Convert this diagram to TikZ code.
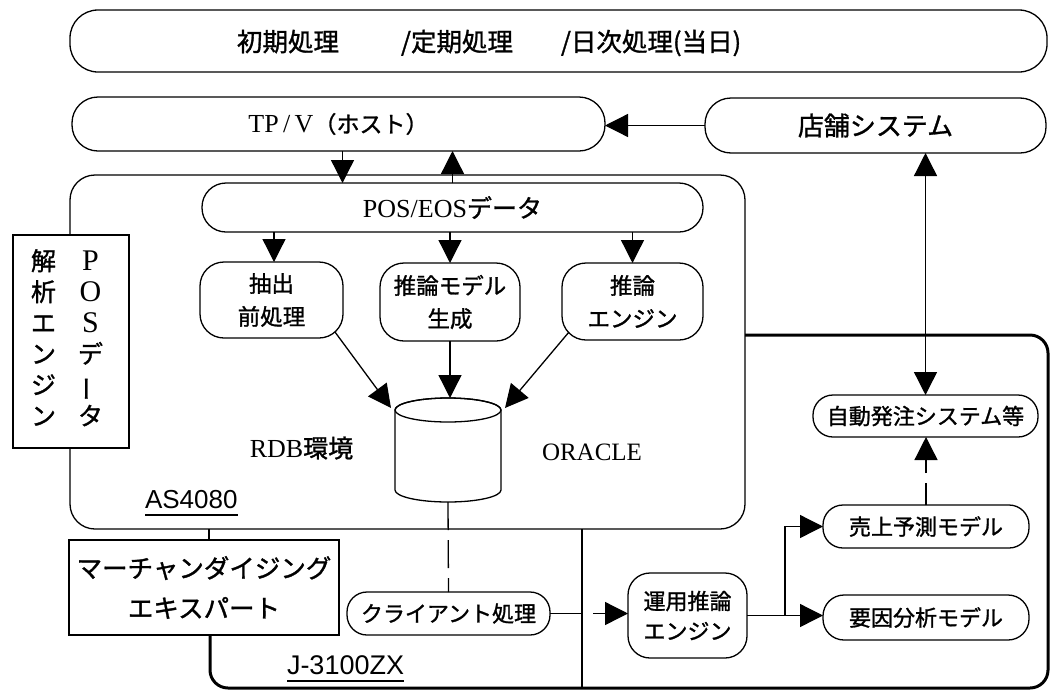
\documentclass[tikz,border=0pt]{standalone}
\usepackage{fontspec}
\usepackage{graphicx}
\setmainfont{Liberation Serif}
\newfontfamily\jp[FakeBold=1.2]{Noto Sans CJK JP}
\newfontfamily\sfn{Liberation Sans}
\usetikzlibrary{arrows.meta,calc}
\newcommand\myul[1]{\setbox0\hbox{#1}\rlap{\copy0}\raisebox{-8pt}{\rule{\wd0}{1.6pt}}}
\begin{document}
\begin{tikzpicture}[x=1pt,y=-1pt,
 ln/.style={line width=1.3pt},
 box/.style={draw, line width=1.3pt, fill=white, inner sep=0pt, outer sep=0pt, align=center},
 arr/.style={ln, -{Triangle[length=23pt,width=23pt]}},
 darr/.style={ln, {Triangle[length=23pt,width=23pt]}-{Triangle[length=23pt,width=23pt]}},
 frame/.style={line width=3pt},
 jtwo/.style={font=\jp\fontsize{22}{30}\selectfont},
 jsmall/.style={font=\jp\fontsize{22.5}{33}\selectfont},
 jmer/.style={font=\jp\fontsize{25.5}{40}\selectfont},
 jbig/.style={font=\jp\fontsize{26}{30}\selectfont},
 plain/.style={inner sep=0pt, outer sep=0pt},
]
\useasboundingbox (0,0) rectangle (1051,691);
\fill[white] (0,0) rectangle (1051,691);

% AS4080 frame
\node[draw, line width=1.3pt, rounded corners=25pt, minimum width=675pt, minimum height=354pt, inner sep=0pt, outer sep=0pt] (as) at (407.5,352) {};
% J-3100ZX frame
\draw[frame, rounded corners=18pt] (745,335) -- (1048,335) -- (1048,688) -- (210,688) -- (210,635);
\coordinate (vl) at (582,688);
\draw[ln] (vl |- as.south) -- (vl);
\coordinate (ml) at (209,540);
\draw[ln] (ml |- as.south) -- (ml);

% top row
\node[box, rounded corners=28pt, minimum width=977pt, minimum height=62pt] (top) at (558.5,41) {};
\node[plain, anchor=west, font=\jp\fontsize{25.5}{30}\selectfont] (toptxt) at (237,43) {初期処理\hspace{62pt}/定期処理\hspace{48pt}/日次処理(当日)};
\node[box, rounded corners=26pt, minimum width=533pt, minimum height=54pt] (tpv) at (338.5,124) {\fontsize{26}{30}\selectfont TP\,/\,V{\jp\fontsize{23}{30}\selectfont （ホスト）}};
\node[box, rounded corners=26pt, minimum width=341pt, minimum height=55pt, jbig] (tenpo) at (875.5,125.5) {店舗システム};

% AS4080 contents
\node[box, rounded corners=24pt, minimum width=501pt, minimum height=49pt] (pos) at (452.5,207.5) {\fontsize{26}{30}\selectfont POS/EOS{\jp\fontsize{25}{30}\selectfont データ}};
\node[box, rounded corners=24pt, minimum width=143pt, minimum height=76pt, jsmall] (chu) at (271.5,300) {抽出\\前処理};
\node[box, rounded corners=24pt, minimum width=140pt, minimum height=78pt, jsmall] (model) at (450,302) {推論モデル\\生成};
\node[box, rounded corners=24pt, minimum width=141pt, minimum height=77pt, jsmall] (eng) at (632.5,301.5) {推論\\エンジン};

\node[plain, minimum width=106pt, minimum height=104pt] (db) at (448,450) {};
\draw[ln, fill=white] (395,410) -- (395,490) arc[start angle=180, end angle=360, x radius=53pt, y radius=12pt] -- (501,410) arc[start angle=0, end angle=180, x radius=53pt, y radius=12pt] -- cycle;
\draw[ln] (448,410) ellipse [x radius=53pt, y radius=12pt];

\node[plain] (rdb) at (301.5,448) {\fontsize{26}{30}\selectfont RDB{\jp\fontsize{25}{30}\selectfont 環境}};
\node[plain, font=\fontsize{25}{30}\selectfont] (ora) at (592,452) {ORACLE};
\node[plain, anchor=base west, font=\sfn\fontsize{26}{30}\selectfont] (aslbl) at (145,508) {\myul{AS4080}};

% vertical box
\node[box, minimum width=116pt, minimum height=213pt] (posv) at (71,341.5) {\fontsize{25}{31}\selectfont\begin{tabular}{@{}c@{\hspace{22pt}}c@{\hspace{8pt}}}{\jp 解}&{\fontsize{30}{31}\selectfont P}\\{\jp 析}&{\fontsize{30}{31}\selectfont O}\\{\jp エ}&{\fontsize{30}{31}\selectfont S}\\{\jp ン}&{\jp デ}\\{\jp ジ}&\rotatebox[origin=c]{90}{\jp ー}\\{\jp ン}&{\jp タ}\end{tabular}};

% lower part
\node[box, minimum width=270pt, minimum height=95pt, jmer] (mer) at (204,587.5) {マーチャンダイジング\\エキスパート};
\node[box, rounded corners=20pt, minimum width=203pt, minimum height=43pt, jtwo] (cli) at (448.5,613.5) {クライアント処理};
\node[box, rounded corners=22pt, minimum width=119pt, minimum height=85pt, jtwo] (unyo) at (687.5,615.5) {運用推論\\エンジン};
\node[box, rounded corners=20pt, minimum width=206pt, minimum height=43pt, jtwo] (uri) at (926,526.5) {売上予測モデル};
\node[box, rounded corners=21pt, minimum width=206pt, minimum height=45pt, jtwo] (you) at (926,617.5) {要因分析モデル};
\node[box, rounded corners=20pt, minimum width=225pt, minimum height=42pt, jtwo] (jido) at (925.5,416) {自動発注システム等};
\node[plain, anchor=base west, font=\sfn\fontsize{27}{30}\selectfont] (jlbl) at (287,674) {\myul{J-3100ZX}};

% connectors
\draw[arr] (tenpo.west) -- (tenpo.west -| tpv.east);
\draw[arr] ([xshift=4pt]tpv.south) -- ([xshift=4pt]tpv.south |- pos.north);
\draw[arr] (pos.north) -- (pos.north |- tpv.south);
\draw[arr] ([xshift=2.5pt]chu.north |- pos.south) -- ([xshift=2.5pt]chu.north);
\draw[arr] (model.north |- pos.south) -- (model.north);
\draw[arr] (eng.north |- pos.south) -- (eng.north);
\draw[arr] ([shift={(-8pt,6pt)}]chu.south east) -- ([shift={(-4pt,-10pt)}]db.north west);
\draw[arr] (model.south) -- (model.south |- db.north);
\draw[arr] ([shift={(7pt,8pt)}]eng.south west) -- ([shift={(4pt,-10pt)}]db.north east);
\draw[ln, dash pattern=on 28pt off 10pt] (db.south) -- (cli.north);
\draw[ln] (cli.east) -- (cli.east -| vl);
\coordinate (ua) at (593,613.5);
\draw[arr] (ua) -- (ua -| unyo.west);
\draw[arr] (unyo.east) -- (unyo.east -| you.west);
\coordinate (br) at (785,615.5);
\draw[arr] (br) |- (uri.west);
\draw[arr, dash pattern=on 22pt off 10pt] (uri.north) -- (uri.north |- jido.south);
\draw[darr] (jido.north) -- (jido.north |- tenpo.south);
\end{tikzpicture}
\end{document}
